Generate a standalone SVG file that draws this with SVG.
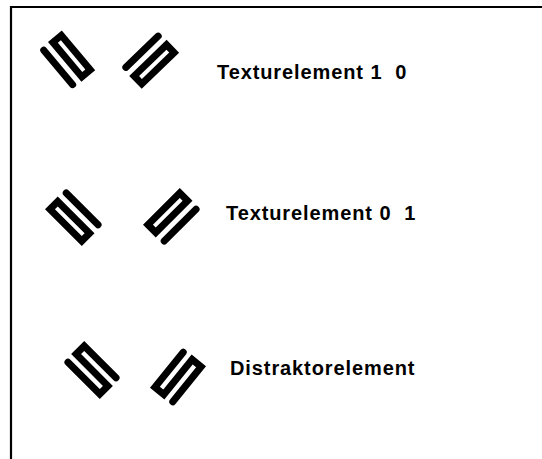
<svg xmlns="http://www.w3.org/2000/svg" width="542" height="459" viewBox="0 0 542 459">
<style>
.frame{stroke:#000;stroke-width:2.2;fill:none}
.bar{stroke:#000;stroke-width:7;stroke-linecap:round;fill:none}
.loop{stroke:#000;stroke-width:7;fill:none;stroke-linejoin:miter}
.s{stroke:#000;stroke-width:7;fill:none;stroke-linejoin:miter;stroke-linecap:round}
.lbl{font-family:"Liberation Sans",Arial,sans-serif;font-weight:bold;font-size:20px;letter-spacing:0.9px;fill:#000}
</style>
<defs>
<g id="e10">
<line class="bar" x1="-11.5" y1="-22.5" x2="-11.5" y2="22.5"/>
<rect class="loop" x="0.5" y="-22.5" width="11" height="45"/>
</g>
<path id="ds" class="s" d="M-11.5,-22.5 L-11.5,22.5 L0,22.5 L0,-22.5 L11.5,-22.5 L11.5,22.5"/>
</defs>
<g id="frame">
<line class="frame" x1="10" y1="7" x2="542" y2="7"/>
<line class="frame" x1="11" y1="6" x2="11" y2="459"/>
</g>
<g id="row1">
<use id="t10a" href="#e10" transform="translate(67,60) rotate(-40)"/>
<use id="t10b" href="#e10" transform="translate(150,60) rotate(46)"/>
<text class="lbl" x="217" y="79" xml:space="preserve">Texturelement 1  0</text>
</g>
<g id="row2">
<use id="t01a" href="#e10" transform="translate(74,217) rotate(135)"/>
<use id="t01b" href="#e10" transform="translate(172,217) rotate(225)"/>
<text class="lbl" x="226" y="220" xml:space="preserve">Texturelement 0  1</text>
</g>
<g id="row3">
<use id="da" href="#ds" transform="translate(92,370) rotate(-45)"/>
<use id="db" href="#ds" transform="translate(178,377) rotate(39)"/>
<text class="lbl" x="230" y="375">Distraktorelement</text>
</g>
<g id="connectors"/>
</svg>
